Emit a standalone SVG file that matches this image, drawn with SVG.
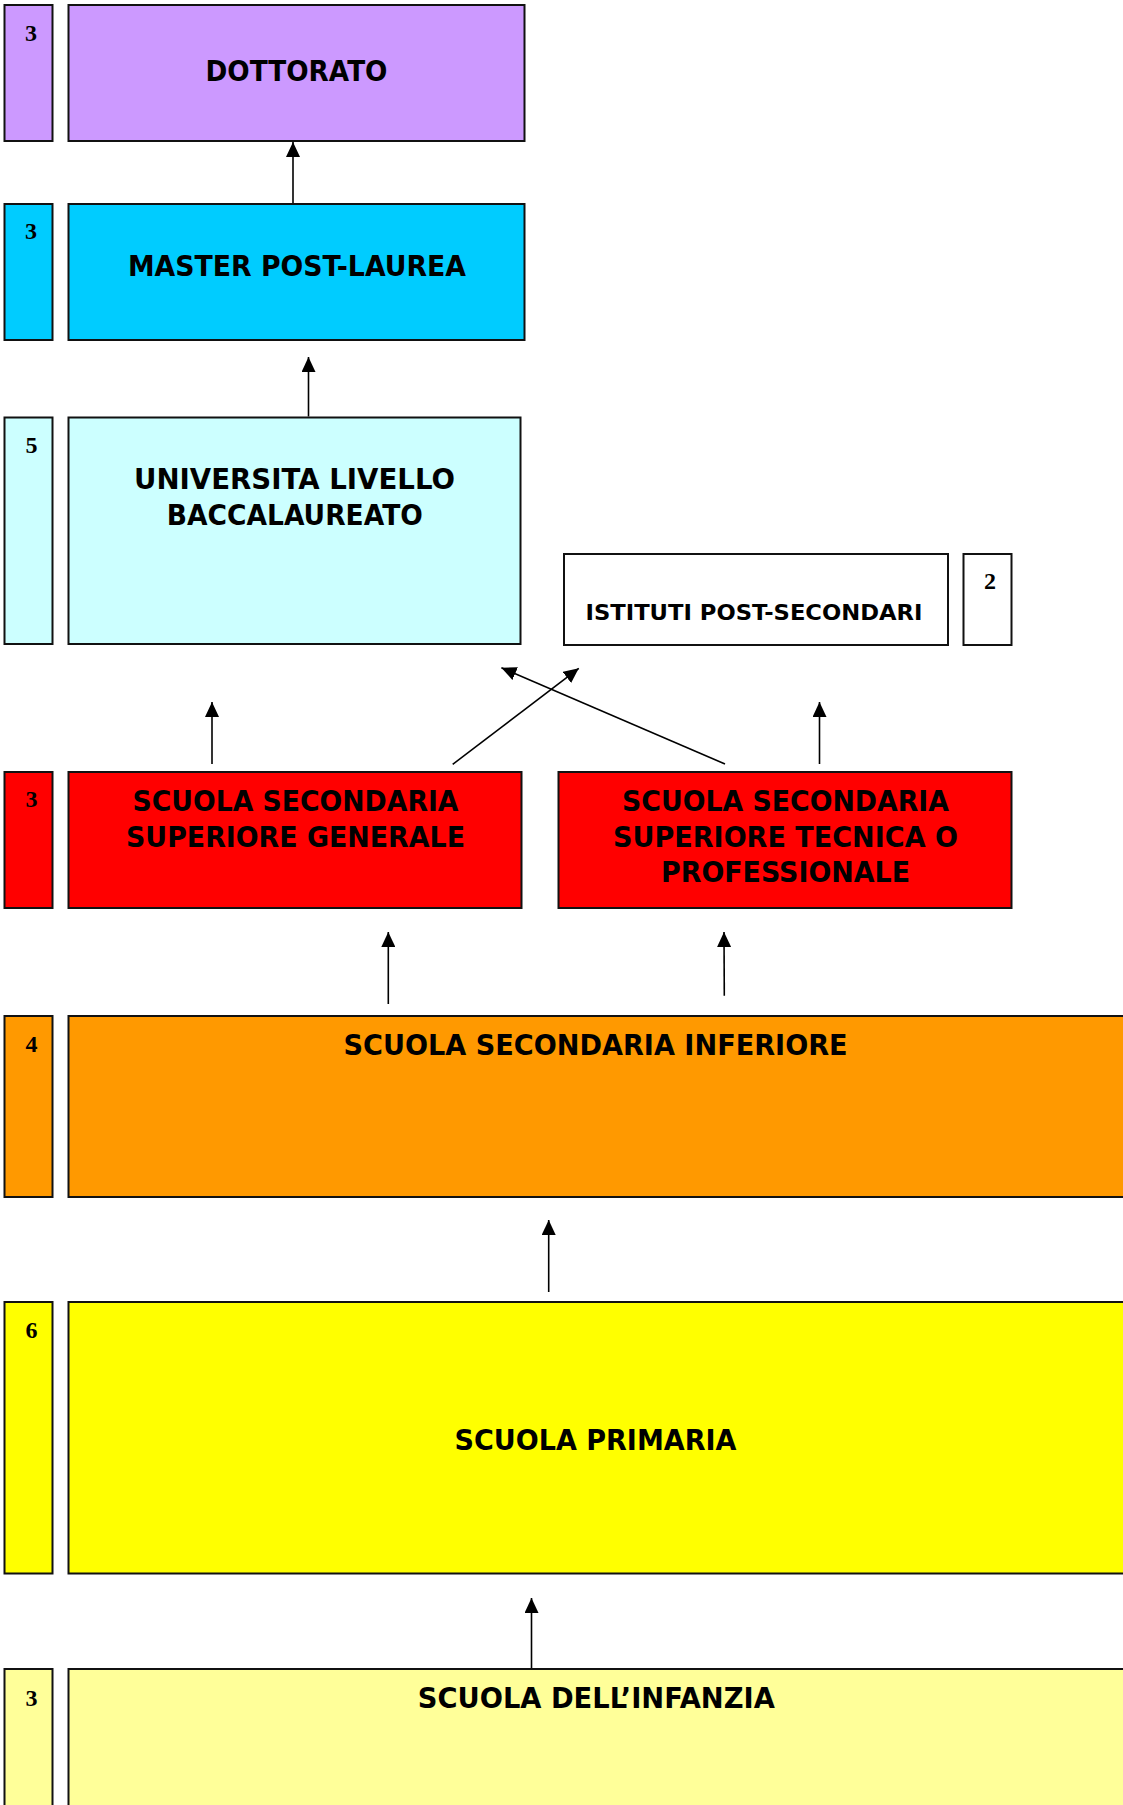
<svg xmlns="http://www.w3.org/2000/svg" width="1123" height="1805" viewBox="0 0 1123 1805">
<style>
.box{stroke:#111;stroke-width:2}
.t{font-family:"DejaVu Sans","Liberation Sans",Arial,sans-serif;font-weight:bold;font-size:28px;fill:#000;text-anchor:middle}
.s{font-size:22px}
.n{font-family:"Liberation Serif","Times New Roman",serif;font-weight:bold;font-size:24px;fill:#000;text-anchor:middle}
.c{stroke:#000;stroke-width:1.6;fill:none;marker-end:url(#ah)}
</style>
<defs>
<marker id="ah" markerUnits="userSpaceOnUse" markerWidth="15" markerHeight="14" refX="15" refY="7" orient="auto">
<path d="M0,0 L15,7 L0,14 z" fill="#000"/>
</marker>
</defs>
<rect width="1123" height="1805" fill="#fff"/>

<g id="dottorato">
<rect class="box" x="4.5" y="5" width="48" height="136" fill="#CC99FF"/>
<text class="n" x="31" y="41">3</text>
<rect class="box" x="68.5" y="5" width="456" height="136" fill="#CC99FF"/>
<text class="t" x="296.5" y="81" textLength="182" lengthAdjust="spacingAndGlyphs">DOTTORATO</text>
</g>

<g id="master">
<rect class="box" x="4.5" y="204" width="48" height="136" fill="#00CCFF"/>
<text class="n" x="31" y="239">3</text>
<rect class="box" x="68.5" y="204" width="456" height="136" fill="#00CCFF"/>
<text class="t" x="297" y="276" textLength="338" lengthAdjust="spacingAndGlyphs">MASTER POST-LAUREA</text>
</g>

<g id="universita">
<rect class="box" x="4.5" y="417.5" width="48" height="226.5" fill="#CCFFFF"/>
<text class="n" x="31.5" y="453">5</text>
<rect class="box" x="68.5" y="417.5" width="452" height="226.5" fill="#CCFFFF"/>
<text class="t" x="294.5" y="489" textLength="321" lengthAdjust="spacingAndGlyphs">UNIVERSITA LIVELLO</text>
<text class="t" x="294.8" y="525" textLength="256" lengthAdjust="spacingAndGlyphs">BACCALAUREATO</text>
</g>

<g id="istituti">
<rect class="box" x="564" y="554" width="384" height="91" fill="#fff"/>
<text class="t s" x="754" y="620" textLength="337" lengthAdjust="spacingAndGlyphs">ISTITUTI POST-SECONDARI</text>
<rect class="box" x="963.5" y="554" width="48" height="91" fill="#fff"/>
<text class="n" x="990" y="589">2</text>
</g>

<g id="superiore-generale">
<rect class="box" x="4.5" y="772" width="48" height="136" fill="#FF0000"/>
<text class="n" x="31.5" y="807">3</text>
<rect class="box" x="68.5" y="772" width="453" height="136" fill="#FF0000"/>
<text class="t" x="295.5" y="810.7" textLength="326" lengthAdjust="spacingAndGlyphs">SCUOLA SECONDARIA</text>
<text class="t" x="295.5" y="846.7" textLength="339" lengthAdjust="spacingAndGlyphs">SUPERIORE GENERALE</text>
</g>

<g id="superiore-tecnica">
<rect class="box" x="558.5" y="772" width="453" height="136" fill="#FF0000"/>
<text class="t" x="785.5" y="810.7" textLength="327" lengthAdjust="spacingAndGlyphs">SCUOLA SECONDARIA</text>
<text class="t" x="785.5" y="846.7" textLength="345" lengthAdjust="spacingAndGlyphs">SUPERIORE TECNICA O</text>
<text class="t" x="785.5" y="882.3" textLength="249" lengthAdjust="spacingAndGlyphs">PROFESSIONALE</text>
</g>

<g id="inferiore">
<rect class="box" x="4.5" y="1016" width="48" height="181" fill="#FF9900"/>
<text class="n" x="31.5" y="1052">4</text>
<rect class="box" x="68.5" y="1016" width="1070" height="181" fill="#FF9900"/>
<text class="t" x="595.6" y="1055" textLength="504" lengthAdjust="spacingAndGlyphs">SCUOLA SECONDARIA INFERIORE</text>
</g>

<g id="primaria">
<rect class="box" x="4.5" y="1302" width="48" height="271.5" fill="#FFFF00"/>
<text class="n" x="31.5" y="1338">6</text>
<rect class="box" x="68.5" y="1302" width="1070" height="271.5" fill="#FFFF00"/>
<text class="t" x="595.5" y="1450" textLength="282" lengthAdjust="spacingAndGlyphs">SCUOLA PRIMARIA</text>
</g>

<g id="infanzia">
<rect class="box" x="4.5" y="1669" width="48" height="150" fill="#FFFF99"/>
<text class="n" x="31.5" y="1706">3</text>
<rect class="box" x="68.5" y="1669" width="1070" height="150" fill="#FFFF99"/>
<text class="t" x="596.3" y="1708" textLength="357" lengthAdjust="spacingAndGlyphs">SCUOLA DELL’INFANZIA</text>
</g>

<g id="connectors">
<line class="c" x1="293" y1="203" x2="293" y2="142"/>
<line class="c" x1="308.5" y1="416.5" x2="308.5" y2="357"/>
<line class="c" x1="212" y1="764" x2="212" y2="702"/>
<line class="c" x1="452.7" y1="764.3" x2="578.8" y2="668.3"/>
<line class="c" x1="725" y1="764" x2="501.4" y2="667.7"/>
<line class="c" x1="819.5" y1="764" x2="819.5" y2="702"/>
<line class="c" x1="388.3" y1="1004" x2="388.3" y2="932"/>
<line class="c" x1="724.3" y1="995.7" x2="724" y2="932"/>
<line class="c" x1="548.7" y1="1292" x2="548.7" y2="1220"/>
<line class="c" x1="531.5" y1="1668" x2="531.5" y2="1598"/>
</g>
</svg>
